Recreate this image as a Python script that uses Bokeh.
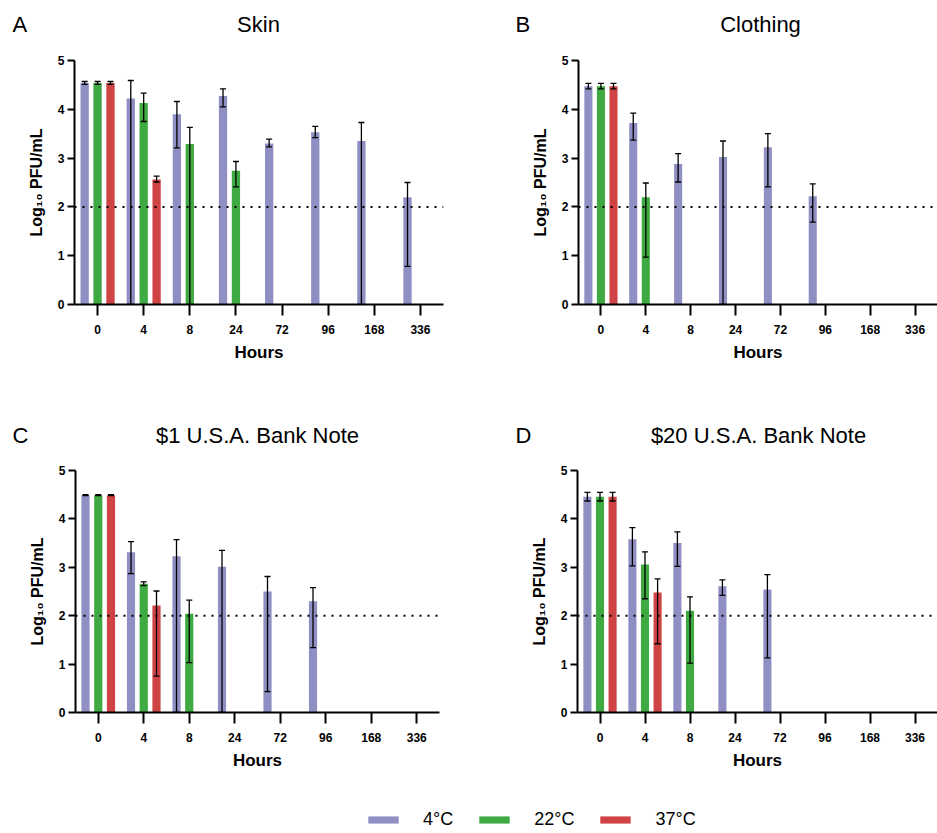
from bokeh.plotting import figure
from bokeh.models import (FactorRange, Range1d, ColumnDataSource, Whisker, TeeHead,
                          Span, Legend, LegendItem, FixedTicker)
from bokeh.layouts import column, row
from bokeh.transform import dodge
from bokeh.embed import file_html
from bokeh.resources import INLINE
from bokeh.core.properties import value

# ---------------- data ----------------
hours = ["0", "4", "8", "24", "72", "96", "168", "336"]
temps = ["4°C", "22°C", "37°C"]
panel_letters = ["A", "B", "C", "D"]
panel_titles = ["Skin", "Clothing", "$1 U.S.A. Bank Note", "$20 U.S.A. Bank Note"]
detection_limit = 2.0

# Skin
skin_4_mean = [4.54, 4.22, 3.90, 4.27, 3.30, 3.53, 3.35, 2.20]
skin_4_low = [4.51, 0.00, 3.21, 4.05, 3.23, 3.42, 0.00, 0.78]
skin_4_high = [4.57, 4.59, 4.16, 4.42, 3.39, 3.65, 3.73, 2.50]
skin_22_mean = [4.54, 4.13, 3.29, 2.74, None, None, None, None]
skin_22_low = [4.51, 3.75, 0.00, 2.41, None, None, None, None]
skin_22_high = [4.57, 4.33, 3.63, 2.93, None, None, None, None]
skin_37_mean = [4.54, 2.56, None, None, None, None, None, None]
skin_37_low = [4.51, 2.51, None, None, None, None, None, None]
skin_37_high = [4.57, 2.63, None, None, None, None, None, None]

# Clothing
cloth_4_mean = [4.47, 3.72, 2.88, 3.02, 3.22, 2.22, None, None]
cloth_4_low = [4.42, 3.37, 2.51, 0.00, 2.41, 1.69, None, None]
cloth_4_high = [4.53, 3.92, 3.09, 3.35, 3.50, 2.47, None, None]
cloth_22_mean = [4.47, 2.20, None, None, None, None, None, None]
cloth_22_low = [4.42, 0.97, None, None, None, None, None, None]
cloth_22_high = [4.53, 2.49, None, None, None, None, None, None]
cloth_37_mean = [4.47, None, None, None, None, None, None, None]
cloth_37_low = [4.42, None, None, None, None, None, None, None]
cloth_37_high = [4.53, None, None, None, None, None, None, None]

# $1 bank note
usd1_4_mean = [4.49, 3.31, 3.23, 3.01, 2.50, 2.30, None, None]
usd1_4_low = [4.48, 2.87, 0.00, 0.00, 0.43, 1.34, None, None]
usd1_4_high = [4.50, 3.53, 3.57, 3.35, 2.81, 2.58, None, None]
usd1_22_mean = [4.49, 2.66, 2.04, None, None, None, None, None]
usd1_22_low = [4.48, 2.62, 1.03, None, None, None, None, None]
usd1_22_high = [4.50, 2.70, 2.32, None, None, None, None, None]
usd1_37_mean = [4.49, 2.21, None, None, None, None, None, None]
usd1_37_low = [4.48, 0.75, None, None, None, None, None, None]
usd1_37_high = [4.50, 2.51, None, None, None, None, None, None]

# $20 bank note
usd20_4_mean = [4.46, 3.58, 3.50, 2.61, 2.54, None, None, None]
usd20_4_low = [4.37, 3.03, 3.02, 2.42, 1.13, None, None, None]
usd20_4_high = [4.55, 3.82, 3.73, 2.74, 2.85, None, None, None]
usd20_22_mean = [4.46, 3.06, 2.10, None, None, None, None, None]
usd20_22_low = [4.37, 2.35, 1.02, None, None, None, None, None]
usd20_22_high = [4.55, 3.32, 2.39, None, None, None, None, None]
usd20_37_mean = [4.46, 2.48, None, None, None, None, None, None]
usd20_37_low = [4.37, 1.42, None, None, None, None, None, None]
usd20_37_high = [4.55, 2.76, None, None, None, None, None, None]

# ---------------- style ----------------
COLORS = ["#8F8FC3", "#3FAA42", "#D04344"]
OFFSETS = [-0.28, 0.0, 0.28]
FONT = "Liberation Sans"


def make_source(mean, low, high):
    h, m, lo, hi = [], [], [], []
    for k, v in enumerate(mean):
        if v is not None:
            h.append(hours[k]); m.append(v); lo.append(low[k]); hi.append(high[k])
    return ColumnDataSource(dict(h=h, m=m, lo=lo, hi=hi))


def panel(series, width, height, bl, br, bt, bb):
    p = figure(width=width, height=height, x_range=FactorRange(*hours, range_padding=0),
               y_range=Range1d(0, 5), output_backend="svg", toolbar_location=None,
               min_border_left=bl, min_border_right=br, min_border_top=bt,
               min_border_bottom=bb)
    p.outline_line_color = None
    p.xgrid.visible = False
    p.ygrid.visible = False
    for (mean, low, high), col, off in zip(series, COLORS, OFFSETS):
        src = make_source(mean, low, high)
        xs = dodge("h", off, range=p.x_range)
        p.vbar(x=xs, top="m", width=0.18, source=src, fill_color=col, line_color=None)
        w = Whisker(base=xs, lower="lo", upper="hi", source=src, line_color="black",
                    line_width=1.3, level="annotation",
                    upper_head=TeeHead(size=6, line_width=1.3, line_color="black"),
                    lower_head=TeeHead(size=6, line_width=1.3, line_color="black"))
        p.add_layout(w)
    p.add_layout(Span(location=detection_limit, dimension="width", line_color="black",
                      line_width=2, line_dash="2 6"))
    # axes
    p.yaxis.ticker = FixedTicker(ticks=[0, 1, 2, 3, 4, 5])
    p.yaxis.minor_tick_line_color = None
    for ax in (p.xaxis[0], p.yaxis[0]):
        ax.axis_line_width = 2
        ax.major_tick_line_width = 2
        ax.major_tick_in = 0
        ax.major_label_text_font = FONT
        ax.major_label_text_font_style = "bold"
        ax.major_label_text_font_size = "12px"
        ax.major_label_text_color = "black"
        ax.axis_label_text_font = FONT
        ax.axis_label_text_font_style = "bold"
        ax.axis_label_text_color = "black"
    p.xaxis.major_tick_out = 11
    p.xaxis.major_label_standoff = 9
    p.xaxis.axis_label = "Hours"
    p.xaxis.axis_label_text_font_size = "17px"
    p.xaxis.axis_label_standoff = 6
    p.yaxis.major_tick_out = 7
    p.yaxis.major_label_standoff = 3
    p.yaxis.axis_label = "Log₁₀ PFU/mL"
    p.yaxis.axis_label_text_font_size = "16px"
    p.yaxis.axis_label_standoff = 10
    return p


def title_strip(height, letters, titles, letter_x, title_x, text_y):
    s = figure(width=937, height=height, x_range=Range1d(0, 937), y_range=Range1d(0, height),
               output_backend="svg", toolbar_location=None, min_border=0)
    s.axis.visible = False
    s.xgrid.visible = False
    s.ygrid.visible = False
    s.outline_line_color = None
    s.text(x=letter_x, y=[text_y] * len(letters), text=letters, text_font=value(FONT),
           text_font_size="22px", text_baseline="middle", text_align="left", text_color="black")
    s.text(x=title_x, y=[text_y] * len(titles), text=titles, text_font=value(FONT),
           text_font_size="22px", text_baseline="middle", text_align="center", text_color="black")
    return s


strip1 = title_strip(40, panel_letters[:2], panel_titles[:2], [12, 515], [258, 760], 16)
strip2 = title_strip(50, panel_letters[2:], panel_titles[2:], [12, 515], [257, 758], 15)

pA = panel([(skin_4_mean, skin_4_low, skin_4_high), (skin_22_mean, skin_22_low, skin_22_high),
            (skin_37_mean, skin_37_low, skin_37_high)],
           470, 360, 74, 27, 20, 96)
pB = panel([(cloth_4_mean, cloth_4_low, cloth_4_high), (cloth_22_mean, cloth_22_low, cloth_22_high),
            (cloth_37_mean, cloth_37_low, cloth_37_high)],
           467, 360, 108, 0, 20, 96)
pC = panel([(usd1_4_mean, usd1_4_low, usd1_4_high), (usd1_22_mean, usd1_22_low, usd1_22_high),
            (usd1_37_mean, usd1_37_low, usd1_37_high)],
           470, 345, 75, 31, 20, 83)
pD = panel([(usd20_4_mean, usd20_4_low, usd20_4_high), (usd20_22_mean, usd20_22_low, usd20_22_high),
            (usd20_37_mean, usd20_37_low, usd20_37_high)],
           467, 345, 107, 0, 20, 83)

# legend strip
lf = figure(width=937, height=35, x_range=Range1d(0, 1), y_range=Range1d(0, 1),
            output_backend="svg", toolbar_location=None, min_border=0)
lf.axis.visible = False
lf.xgrid.visible = False
lf.ygrid.visible = False
lf.outline_line_color = None
items = []
for t, col in zip(temps, COLORS):
    # legend stub placed outside the visible range so that only the swatch shows
    r = lf.vbar(x=[5], top=[1], width=0.1, fill_color=col, line_color=None)
    items.append(LegendItem(label=t, renderers=[r]))
leg = Legend(items=items, orientation="horizontal", location=(364, 0), glyph_width=38,
             glyph_height=9, label_standoff=21, spacing=22, padding=0, margin=0,
             border_line_color=None, background_fill_alpha=0, label_text_font=FONT,
             label_text_font_size="18px", label_text_color="black")
lf.add_layout(leg)

layout = column(strip1, row(pA, pB), strip2, row(pC, pD), lf)
open("out.html", "w").write(file_html(layout, INLINE))
